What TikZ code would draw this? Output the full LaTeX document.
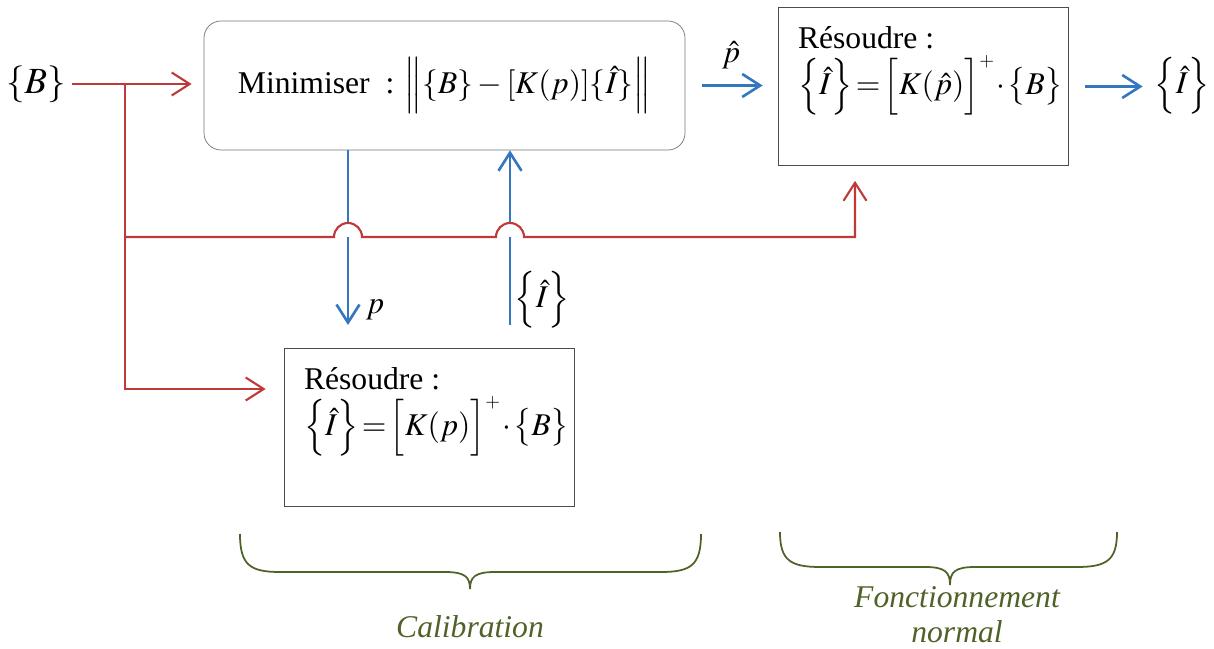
\documentclass[tikz,border=0pt]{standalone}
\usepackage{mathptmx}
\usepackage{fontspec}
\setmainfont{Liberation Serif}
\usetikzlibrary{arrows.meta}
\definecolor{sigred}{RGB}{192,57,57}
\definecolor{sigblue}{RGB}{52,119,190}
\definecolor{bracegreen}{RGB}{79,98,40}

\begin{document}
\begin{tikzpicture}[
  font=\fontsize{18}{21}\selectfont,
  >={Straight Barb[length=0.36cm,width=0.46cm]},
  minbox/.style={draw=black!55, rounded corners=0.34cm,
    minimum width=9.62cm, minimum height=2.58cm},
  resbox/.style={draw=black!70, minimum width=5.8cm, minimum height=3.16cm},
  restxt/.style={anchor=north west, align=left, inner sep=0pt,
    execute at begin node={\thickmuskip=2mu\medmuskip=1mu}},
  redline/.style={draw=sigred, line width=1.2pt},
  blueline/.style={draw=sigblue, line width=1.5pt},
  phase/.style={font=\fontsize{18}{20}\selectfont\itshape, text=bracegreen,
    align=center}]
\useasboundingbox (0,0) rectangle (24.28,12.96);

\node[font=\fontsize{21}{24}\selectfont] (B) at (0.72,11.28) {$\{B\}$};
\node[minbox] (minim) at (8.89,11.25)
  {Minimiser~ : $\Bigl\|\{B\}-[K(p)]\{\hat I\}\Bigr\|$};
\node[resbox] (res1) at (18.46,11.23) {};
\node[restxt] (res1txt) at ([shift={(0.4,-0.38)}]res1.north west)
  {Résoudre :\\[3pt]$\Bigl\{\hat I\Bigr\}=\Bigl[K(\hat p)\Bigr]^{\scriptscriptstyle +}\cdot\bigl\{B\bigr\}$};
\node (Iout) at (23.64,11.24) {$\Bigl\{\hat I\Bigr\}$};
\node[resbox] (res2) at (8.58,4.41) {};
\node[restxt] (res2txt) at ([shift={(0.4,-0.38)}]res2.north west)
  {Résoudre :\\[3pt]$\Bigl\{\hat I\Bigr\}=\Bigl[K(p)\Bigr]^{\scriptscriptstyle +}\cdot\bigl\{B\bigr\}$};

% measured signal {B}
\coordinate (split) at (2.5,11.26);
\coordinate (fuse) at (17.1,8.22);
\draw[redline, ->, shorten >=0.24cm] (B) -- (B -| minim.west);
\draw[redline, ->, shorten >=0.36cm] (split) |- ([yshift=0.77cm]res2.west);

% calibration loop
\coordinate (pdown) at (6.96,6.46);
\coordinate (iup) at (10.2,6.46);
\draw[blueline, ->] (pdown |- minim.south) -- (pdown);
\draw[blueline, ->] (iup) -- (iup |- minim.south);
\node (plab) at (7.5,6.76) {$p$};
\node (ilab) at (10.84,6.96) {$\Bigl\{\hat I\Bigr\}$};

% line jumps
\fill[white] (6.68,8.22) arc[start angle=180, end angle=0, radius=0.28] -- cycle;
\fill[white] (9.92,8.22) arc[start angle=180, end angle=0, radius=0.28] -- cycle;
\draw[redline, ->] (split |- fuse) -- (6.68,8.22)
  arc[start angle=180, end angle=0, radius=0.28] -- (9.92,8.22)
  arc[start angle=180, end angle=0, radius=0.28] -- (fuse)
  -- ([yshift=-0.3cm]fuse |- res1.south);

% normal operation
\draw[blueline, ->, shorten <=0.34cm, shorten >=0.3cm]
  (minim.east) -- (minim.east -| res1.west);
\node (phat) at (14.62,11.86) {$\hat p$};
\draw[blueline, ->, shorten <=0.34cm, shorten >=0.12cm]
  (res1.east) -- (res1.east -| Iout.west);

% braces
\draw[bracegreen, line width=1pt] (4.8,2.28)
  .. controls (4.8,1.66) and (5.0,1.52) .. (5.6,1.52) -- (8.9,1.52)
  .. controls (9.3,1.52) and (9.4,1.42) .. (9.4,1.18)
  .. controls (9.4,1.42) and (9.5,1.52) .. (9.9,1.52) -- (13.22,1.52)
  .. controls (13.82,1.52) and (14.02,1.66) .. (14.02,2.28);
\draw[bracegreen, line width=1pt] (15.6,2.32)
  .. controls (15.6,1.76) and (15.8,1.62) .. (16.4,1.62) -- (18.5,1.62)
  .. controls (18.9,1.62) and (19.0,1.52) .. (19.0,1.26)
  .. controls (19.0,1.52) and (19.1,1.62) .. (19.5,1.62) -- (21.54,1.62)
  .. controls (22.14,1.62) and (22.34,1.76) .. (22.34,2.32);
\node[phase] (calib) at (9.4,0.42) {Calibration};
\node[phase] (fonct) at (19.14,0.66) {Fonctionnement\\normal};
\end{tikzpicture}
\end{document}
